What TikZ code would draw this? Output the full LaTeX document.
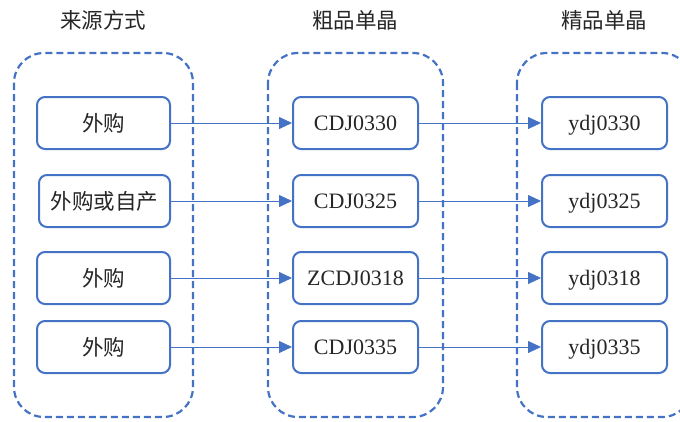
\documentclass[tikz,border=0pt]{standalone}
\usepackage{fontspec}
\setmainfont{Liberation Serif}
\newfontfamily\cjk{Noto Sans CJK SC}
\usetikzlibrary{arrows.meta}
\definecolor{bl}{HTML}{4472C4}
\definecolor{tx}{HTML}{262626}
\begin{document}
\begin{tikzpicture}[x=1pt,y=-1pt,
  container/.style={draw=bl,line width=2.2pt,dash pattern=on 7pt off 4pt,rounded corners=30pt},
  basebox/.style={draw=bl,line width=2pt,rounded corners=8pt,fill=white,minimum height=52pt,inner sep=0pt,text=tx},
  itembox/.style={basebox,font=\fontsize{22}{25}\selectfont,text height=15pt,text depth=0pt},
  cjkbox/.style={basebox,font=\cjk\fontsize{21.5}{24}\selectfont,text height=16.5pt,text depth=0pt},
  title/.style={font=\cjk\fontsize{21.5}{24}\selectfont,inner sep=0pt,text=tx},
  conn/.style={draw=bl,line width=0.8pt,-{Triangle[length=13pt,width=12pt]}}]
\useasboundingbox (0,0) rectangle (680,421);
\clip (0,0) rectangle (680,421);
% containers
\draw[container] (14,53) rectangle (193,417);
\draw[container] (268,53) rectangle (443,417);
\draw[container] (517,53) rectangle (692,417);
% titles
\node[title] (t1) at (103,20) {来源方式};
\node[title] (t2) at (355,20) {粗品单晶};
\node[title] (t3) at (604,20) {精品单晶};
% left
\node[cjkbox,minimum width=133pt] (a1) at (103.5,123) {外购};
\node[cjkbox,minimum width=131pt] (a2) at (104.5,201) {外购或自产};
\node[cjkbox,minimum width=133pt] (a3) at (103.5,278) {外购};
\node[cjkbox,minimum width=133pt] (a4) at (103.5,347) {外购};
% middle
\node[itembox,minimum width=125pt] (b1) at (355.5,123) {CDJ0330};
\node[itembox,minimum width=125pt] (b2) at (355.5,201) {CDJ0325};
\node[itembox,minimum width=125pt] (b3) at (355.5,278) {ZCDJ0318};
\node[itembox,minimum width=125pt] (b4) at (355.5,347) {CDJ0335};
% right
\node[itembox,minimum width=125pt] (c1) at (604.5,123) {ydj0330};
\node[itembox,minimum width=125pt] (c2) at (604.5,201) {ydj0325};
\node[itembox,minimum width=125pt] (c3) at (604.5,278) {ydj0318};
\node[itembox,minimum width=125pt] (c4) at (604.5,347) {ydj0335};
% connectors
\foreach \i in {1,2,3,4}{
  \draw[conn] (a\i.east) -- (b\i.west);
  \draw[conn] (b\i.east) -- (c\i.west);
}
\end{tikzpicture}
\end{document}
